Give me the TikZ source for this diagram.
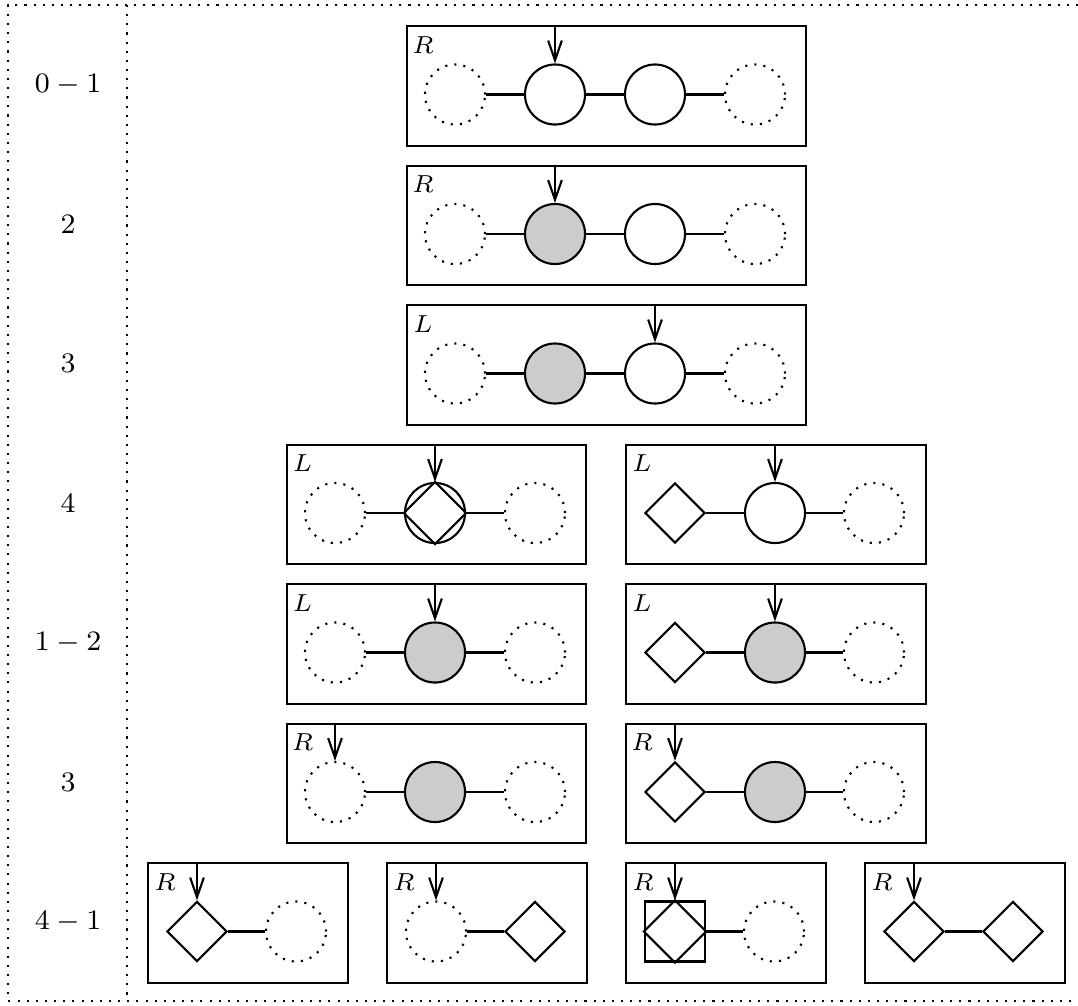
\documentclass[tikz,border=0pt]{standalone}
\usetikzlibrary{shapes.geometric,arrows.meta}
\tikzset{
  box/.style={draw, rectangle, anchor=north west, inner sep=0pt, minimum height=1.195cm},
  ghost/.style={circle, draw, dotted, minimum size=0.6cm, inner sep=0pt},
  st/.style={circle, draw, minimum size=0.6cm, inner sep=0pt},
  fst/.style={st, fill=black!20},
  dia/.style={diamond, draw, minimum size=0.6cm, inner sep=0pt, shape aspect=1},
  sq/.style={rectangle, draw, minimum size=0.6cm, inner sep=0pt},
  tag/.style={font=\fontsize{7.3}{8}\selectfont, inner sep=0pt},
  rowlab/.style={font=\fontsize{8.5}{10}\selectfont, inner sep=0pt},
  arr/.style={-{Straight Barb[length=5.6pt,width=3.9pt]}},
  frame/.style={dotted}
}
\begin{document}
\begin{tikzpicture}[x=0.01cm,y=-0.01cm,semithick]
\useasboundingbox (0,0) rectangle (1078,1005);
% frame
\draw[frame] (1078,5) -- (8,5) -- (8,1001) -- (1078,1001);
\draw[frame] (127,5) -- (127,1001);
% row labels
\node[rowlab] (l0) at (68,84.75) {$0-1$};
\node[rowlab] (l1) at (68,224.25) {$2$};
\node[rowlab] (l2) at (68,363.75) {$3$};
\node[rowlab] (l3) at (68,503.25) {$4$};
\node[rowlab] (l4) at (68,642.75) {$1-2$};
\node[rowlab] (l5) at (68,782.25) {$3$};
\node[rowlab] (l6) at (68,921.75) {$4-1$};
% ---------- row 0
\node[box, minimum width=3.99cm] (b0) at (406,25) {};
\node[tag] (t0) at (423,45) {$R$};
\node[ghost] (a00) at (455,94.5) {};
\node[st] (a01) at (555,94.5) {};
\node[st] (a02) at (655,94.5) {};
\node[ghost] (a03) at (755,94.5) {};
\draw (a00) -- (a01) -- (a02) -- (a03);
\draw[arr] (b0.north -| a01) -- (a01.north);
% ---------- row 1
\node[box, minimum width=3.99cm] (b1) at (406,164.5) {};
\node[tag] (t1) at (423,184.5) {$R$};
\node[ghost] (a10) at (455,234) {};
\node[fst] (a11) at (555,234) {};
\node[st] (a12) at (655,234) {};
\node[ghost] (a13) at (755,234) {};
\draw (a10) -- (a11) -- (a12) -- (a13);
\draw[arr] (b1.north -| a11) -- (a11.north);
% ---------- row 2
\node[box, minimum width=3.99cm] (b2) at (406,304) {};
\node[tag] (t2) at (423,324) {$L$};
\node[ghost] (a20) at (455,373.5) {};
\node[fst] (a21) at (555,373.5) {};
\node[st] (a22) at (655,373.5) {};
\node[ghost] (a23) at (755,373.5) {};
\draw (a20) -- (a21) -- (a22) -- (a23);
\draw[arr] (b2.north -| a22) -- (a22.north);
% ---------- row 3
\node[box, minimum width=2.995cm] (b3a) at (285.5,443.5) {};
\node[tag] (t3a) at (302.5,463.5) {$L$};
\node[ghost] (a30) at (335,513) {};
\node[st] (a31) at (435,513) {};
\draw (a31.north) -- (a31.east) -- (a31.south) -- (a31.west) -- cycle;
\node[ghost] (a32) at (535,513) {};
\draw (a30) -- (a31) -- (a32);
\draw[arr] (b3a.north -| a31) -- (a31.north);
\node[box, minimum width=3cm] (b3b) at (625,443.5) {};
\node[tag] (t3b) at (642,463.5) {$L$};
\node[dia] (c30) at (675,513) {};
\node[st] (c31) at (775,513) {};
\node[ghost] (c32) at (874,513) {};
\draw (c30) -- (c31) -- (c32);
\draw[arr] (b3b.north -| c31) -- (c31.north);
% ---------- row 4
\node[box, minimum width=2.995cm] (b4a) at (285.5,583) {};
\node[tag] (t4a) at (302.5,603) {$L$};
\node[ghost] (a40) at (335,652.5) {};
\node[fst] (a41) at (435,652.5) {};
\node[ghost] (a42) at (535,652.5) {};
\draw (a40) -- (a41) -- (a42);
\draw[arr] (b4a.north -| a41) -- (a41.north);
\node[box, minimum width=3cm] (b4b) at (625,583) {};
\node[tag] (t4b) at (642,603) {$L$};
\node[dia] (c40) at (675,652.5) {};
\node[fst] (c41) at (775,652.5) {};
\node[ghost] (c42) at (874,652.5) {};
\draw (c40) -- (c41) -- (c42);
\draw[arr] (b4b.north -| c41) -- (c41.north);
% ---------- row 5
\node[box, minimum width=2.995cm] (b5a) at (285.5,722.5) {};
\node[tag] (t5a) at (302.5,742.5) {$R$};
\node[ghost] (a50) at (335,792) {};
\node[fst] (a51) at (435,792) {};
\node[ghost] (a52) at (535,792) {};
\draw (a50) -- (a51) -- (a52);
\draw[arr] (b5a.north -| a50) -- (a50.north);
\node[box, minimum width=3cm] (b5b) at (625,722.5) {};
\node[tag] (t5b) at (642,742.5) {$R$};
\node[dia] (c50) at (675,792) {};
\node[fst] (c51) at (775,792) {};
\node[ghost] (c52) at (874,792) {};
\draw (c50) -- (c51) -- (c52);
\draw[arr] (b5b.north -| c50) -- (c50.north);
% ---------- row 6
\node[box, minimum width=2cm] (b6a) at (147,862) {};
\node[tag] (t6a) at (165,882) {$R$};
\node[dia] (d60) at (197,931.5) {};
\node[ghost] (d61) at (296,931.5) {};
\draw (d60) -- (d61);
\draw[arr] (b6a.north -| d60) -- (d60.north);
\node[box, minimum width=2cm] (b6b) at (386,862) {};
\node[tag] (t6b) at (404,882) {$R$};
\node[ghost] (e60) at (436,931.5) {};
\node[dia] (e61) at (535,931.5) {};
\draw (e60) -- (e61);
\draw[arr] (b6b.north -| e60) -- (e60.north);
\node[box, minimum width=2cm] (b6c) at (625,862) {};
\node[tag] (t6c) at (643,882) {$R$};
\node[sq] (f60) at (675,931.5) {};
\draw (f60.north) -- (f60.east) -- (f60.south) -- (f60.west) -- cycle;
\node[ghost] (f61) at (774,931.5) {};
\draw (f60) -- (f61);
\draw[arr] (b6c.north -| f60) -- (f60.north);
\node[box, minimum width=2cm] (b6d) at (864,862) {};
\node[tag] (t6d) at (882,882) {$R$};
\node[dia] (g60) at (914,931.5) {};
\node[dia] (g61) at (1013,931.5) {};
\draw (g60) -- (g61);
\draw[arr] (b6d.north -| g60) -- (g60.north);
\end{tikzpicture}
\end{document}
